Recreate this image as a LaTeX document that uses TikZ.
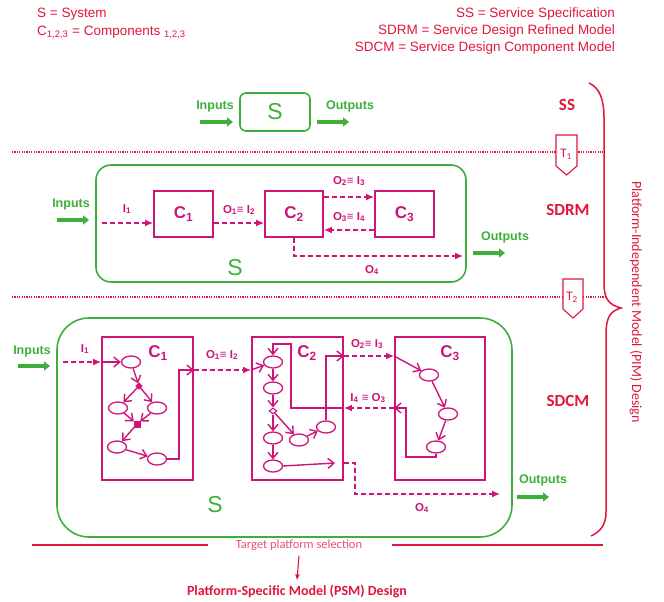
\documentclass[tikz,border=0pt]{standalone}
\usepackage{fontspec}
\setmainfont{Liberation Sans}
\newfontfamily\calfont{Carlito}
\usetikzlibrary{arrows.meta,calc,shapes.geometric}
\definecolor{pimred}{HTML}{E0163C}
\definecolor{softred}{HTML}{E8526E}
\definecolor{comp}{HTML}{CD1478}
\definecolor{sysgreen}{HTML}{3DAF3A}
\tikzset{
  keytext/.style={text=pimred,inner sep=0pt,font=\fontsize{13.5}{13.5}\selectfont},
  modeltag/.style={text=pimred,inner sep=0pt,font=\calfont\bfseries\fontsize{17}{17}\selectfont},
  sysbox/.style={draw=sysgreen,line width=1.6pt,inner sep=0pt},
  sysname/.style={text=sysgreen,inner sep=0pt,font=\fontsize{23}{23}\selectfont},
  iolabel/.style={text=sysgreen,inner sep=0pt,font=\bfseries\fontsize{12.5}{12.5}\selectfont},
  ioarrow/.style={-{Triangle[length=6pt,width=9pt]},draw=sysgreen,line width=4.3pt},
  compbox/.style={draw=comp,line width=1.9pt,inner sep=0pt},
  compname/.style={text=comp,inner sep=0pt,font=\bfseries\fontsize{17}{17}\selectfont},
  flowlabel/.style={text=comp,inner sep=0pt,font=\bfseries\fontsize{11.5}{11.5}\selectfont},
  dflow/.style={-{Latex[length=8pt,width=7pt]},draw=comp,line width=1.5pt,dash pattern=on 5pt off 3pt},
  sflow/.style={-{Straight Barb[length=6pt,width=10pt]},draw=comp,line width=1.4pt},
  act/.style={draw=comp,ellipse,line width=1.3pt,minimum width=19pt,minimum height=12pt,inner sep=0pt},
  forkpt/.style={draw=comp,fill=comp,diamond,minimum size=7pt,inner sep=0pt},
  mergept/.style={draw=comp,fill=comp,rectangle,minimum size=6pt,inner sep=0pt},
  decide/.style={draw=comp,fill=white,diamond,line width=1.1pt,minimum width=8pt,minimum height=6pt,inner sep=0pt},
  sepline/.style={draw=pimred,line width=1.8pt,dash pattern=on 1.2pt off 1.2pt},
  tagline/.style={draw=pimred,fill=white,line width=1.1pt},
  taglabel/.style={text=pimred,inner sep=0pt,font=\calfont\fontsize{13}{13}\selectfont},
  pimbrace/.style={draw=pimred,line width=1.5pt},
  pimlabel/.style={text=pimred,inner sep=0pt,font=\calfont\fontsize{14}{14}\selectfont},
  selrule/.style={draw=pimred,line width=1.7pt},
  downarrow/.style={-{Latex[length=6pt,width=5pt]},draw=pimred,line width=1.1pt}
}

\begin{document}
\begin{tikzpicture}[x=1pt,y=-1pt]
\useasboundingbox (0,0) rectangle (664,602);

% legend
\node[keytext,anchor=west] (lgs) at (37,14) {S = System};
\node[keytext,anchor=west] (lgc) at (37,32) {C\textsubscript{1,2,3} = Components \textsubscript{1,2,3}};
\node[keytext,anchor=east] (lgss) at (615,14) {SS = Service Specification};
\node[keytext,anchor=east] (lgsdrm) at (615,31) {SDRM = Service Design Refined Model};
\node[keytext,anchor=east] (lgsdcm) at (615,48) {SDCM = Service Design Component Model};

% SS level
\node[sysbox,sysname,rounded corners=6pt,minimum width=70pt,minimum height=38pt] (ss) at (275,112) {S};
\node[iolabel] (ssin) at (215,106) {Inputs};
\node[iolabel] (ssout) at (350,106) {Outputs};
\coordinate (ssin0) at (200,122); \coordinate (ssin1) at (233,122);
\coordinate (ssout0) at (317,122); \coordinate (ssout1) at (349,122);
\draw[ioarrow] (ssin0) -- (ssin1);
\draw[ioarrow] (ssout0) -- (ssout1);
\node[modeltag] (lss) at (567,105) {SS};

% separators and transformations
\coordinate (sepa0) at (12,152); \coordinate (sepa1) at (603,152);
\coordinate (sepb0) at (12,297); \coordinate (sepb1) at (607,297);
\draw[sepline] (sepa0) -- (sepa1);
\draw[sepline] (sepb0) -- (sepb1);
\draw[tagline] (556,135) -- (577,135) -- (577,166) -- (566.5,175) -- (556,166) -- cycle;
\node[taglabel] (t1) at (566,154) {T\textsubscript{1}};
\draw[tagline] (563,279) -- (583,279) -- (583,309) -- (573,318) -- (563,309) -- cycle;
\node[taglabel] (t2) at (572,297) {T\textsubscript{2}};

% SDRM level
\node[sysbox,rounded corners=15pt,minimum width=370pt,minimum height=117pt] (sdrm) at (281,223.5) {};
\node[sysname] (sdrmname) at (235,268) {S};
\node[compbox,compname,minimum width=59pt,minimum height=46pt] (rc1) at (183.5,214) {C\textsubscript{1}};
\node[compbox,compname,minimum width=58pt,minimum height=46pt] (rc2) at (294,214) {C\textsubscript{2}};
\node[compbox,compname,minimum width=59pt,minimum height=46pt] (rc3) at (404.5,214) {C\textsubscript{3}};
\coordinate (rin) at (102,223);
\coordinate (rfw) at (0,197);
\coordinate (rbw) at (0,230);
\coordinate (ro4) at (463,256);
\draw[dflow] (rin) -- (rc1.west|-rin);
\draw[dflow] (rc1.east|-rin) -- (rc2.west|-rin);
\draw[dflow] (rc2.east|-rfw) -- (rc3.west|-rfw);
\draw[dflow] (rc3.west|-rbw) -- (rc2.east|-rbw);
\draw[dflow] (rc2.south) |- (ro4);
\node[flowlabel] (ri1) at (127,209) {I\textsubscript{1}};
\node[flowlabel] (ro1) at (239,210) {O\textsubscript{1}≡ I\textsubscript{2}};
\node[flowlabel] (ro2) at (349,181) {O\textsubscript{2}≡ I\textsubscript{3}};
\node[flowlabel] (ro3) at (349,217) {O\textsubscript{3}≡ I\textsubscript{4}};
\node[flowlabel] (ro4l) at (372,270) {O\textsubscript{4}};
\node[iolabel] (rinl) at (71,204) {Inputs};
\node[iolabel] (routl) at (505,237) {Outputs};
\coordinate (rin0) at (57,220); \coordinate (rin1) at (89,220);
\coordinate (rout0) at (473,253); \coordinate (rout1) at (505,253);
\draw[ioarrow] (rin0) -- (rin1);
\draw[ioarrow] (rout0) -- (rout1);
\node[modeltag] (lsdrm) at (568,210) {SDRM};

% SDCM level
\node[sysbox,rounded corners=32pt,minimum width=455pt,minimum height=219pt] (sdcm) at (284.5,427.5) {};
\node[sysname] (sdcmname) at (215,505) {S};
\node[compbox,minimum width=91pt,minimum height=143pt] (bc1) at (147.5,408.5) {};
\node[compbox,minimum width=91pt,minimum height=143pt] (bc2) at (297.5,408.5) {};
\node[compbox,minimum width=90pt,minimum height=143pt] (bc3) at (440,408.5) {};
\node[compname] (bc1l) at (158,353) {C\textsubscript{1}};
\node[compname] (bc2l) at (307,353) {C\textsubscript{2}};
\node[compname] (bc3l) at (450,353) {C\textsubscript{3}};

% C1 activities
\node[act] (a1) at (131,362) {};
\node[forkpt] (k1) at (139,386) {};
\node[act] (b1) at (118,408) {};
\node[act] (b2) at (157,408) {};
\node[mergept] (j1) at (137,424) {};
\node[act] (d1) at (117,447) {};
\node[act] (e1) at (157,459) {};
\coordinate (c1out) at (179,370);
\draw[sflow] (bc1.west|-a1) -- (a1);
\draw[sflow] (a1) -- (k1);
\draw[sflow] (k1) -- (b1);
\draw[sflow] (k1) -- (b2);
\draw[sflow] (b1) -- (j1);
\draw[sflow] (b2) -- (j1);
\draw[sflow] (j1) -- (d1);
\draw[sflow] (d1) -- (e1);
\draw[sflow] (e1.east) -| (c1out) -- (bc1.east|-c1out);

% C2 activities
\node[act] (f1) at (273,362) {};
\node[act] (f2) at (273,388) {};
\node[decide] (k2) at (273,411) {};
\node[act] (f3) at (273,438) {};
\node[act] (f4) at (273,466) {};
\node[act] (f5) at (299,440) {};
\node[act] (f6) at (326,427) {};
\coordinate (c2out) at (0,356);
\coordinate (f4out) at (335,463);
\coordinate (fb) at (291,408);
\coordinate (fbtop) at (291,344);
\draw[sflow] (bc2.west|-c1out) -- (f1);
\draw[sflow] (f1) -- (f2);
\draw[sflow] (f2) -- (k2);
\draw[sflow] (k2) -- (f3);
\draw[sflow] (f3) -- (f4);
\draw[sflow] (k2) -- (f5);
\draw[sflow] (f5) -- (f6);
\draw[sflow] (f6.north) |- (bc2.east|-c2out);
\draw[sflow] (f4.east) -- (f4out);
\draw[sflow] (bc2.east|-fb) -| (fbtop) -| (f1.north);

% C3 activities
\node[act] (g1) at (429,375) {};
\node[act] (g2) at (448,414) {};
\node[act] (g3) at (436,447) {};
\coordinate (g3turn) at (406,457);
\draw[sflow] (bc3.west|-c2out) -- (g1);
\draw[sflow] (g1) -- (g2);
\draw[sflow] (g2) -- (g3);
\draw[sflow] (g3.south) |- (g3turn) |- (bc3.west|-fb);

% SDCM flows
\coordinate (bin) at (63,362);
\coordinate (bo4bend) at (355,494);
\coordinate (bo4) at (500,494);
\draw[dflow] (bin) -- (bc1.west|-bin);
\draw[dflow] (bc1.east|-c1out) -- (bc2.west|-c1out);
\draw[dflow] (bc2.east|-c2out) -- (bc3.west|-c2out);
\draw[dflow] (bc3.west|-fb) -- (bc2.east|-fb);
\draw[dflow] (bc2.east|-f4out) -| (bo4bend) -- (bo4);
\node[flowlabel] (bi1) at (85,349) {I\textsubscript{1}};
\node[flowlabel] (bo1) at (222,355) {O\textsubscript{1}≡ I\textsubscript{2}};
\node[flowlabel] (bo2) at (367,344) {O\textsubscript{2}≡ I\textsubscript{3}};
\node[flowlabel] (bo3) at (368,398) {I\textsubscript{4} ≡ O\textsubscript{3}};
\node[flowlabel] (bo4l) at (422,508) {O\textsubscript{4}};
\node[iolabel] (binl) at (32,351) {Inputs};
\node[iolabel] (boutl) at (543,480) {Outputs};
\coordinate (bin0) at (18,366); \coordinate (bin1) at (50,366);
\coordinate (bout0) at (517,497); \coordinate (bout1) at (549,497);
\draw[ioarrow] (bin0) -- (bin1);
\draw[ioarrow] (bout0) -- (bout1);
\node[modeltag] (lsdcm) at (568,401) {SDCM};

% PIM brace
\draw[pimbrace] (589,83) .. controls (600,88) and (604,100) .. (604,118) -- (604,284)
  .. controls (604,300) and (610,305) .. (621,308)
  .. controls (610,311) and (606,318) .. (606,334) -- (606,512)
  .. controls (606,525) and (600,532) .. (591,536);
\node[pimlabel,rotate=-90] (pim) at (636,302) {Platform-Independent Model (PIM) Design};

% platform selection
\node[text=softred,inner sep=0pt,font=\calfont\fontsize{12.5}{12.5}\selectfont] (sel) at (299,545) {Target platform selection};
\node[text=pimred,inner sep=0pt,font=\calfont\bfseries\fontsize{14}{14}\selectfont] (psm) at (297,591) {Platform-Specific Model (PSM) Design};
\coordinate (rulel0) at (32,545); \coordinate (rulel1) at (208,545);
\coordinate (ruler0) at (392,545); \coordinate (ruler1) at (603,545);
\draw[selrule] (rulel0) -- (rulel1);
\draw[selrule] (ruler0) -- (ruler1);
\draw[downarrow] ([yshift=-5pt]sel.south) -- ([yshift=4pt]psm.north);
\end{tikzpicture}
\end{document}
